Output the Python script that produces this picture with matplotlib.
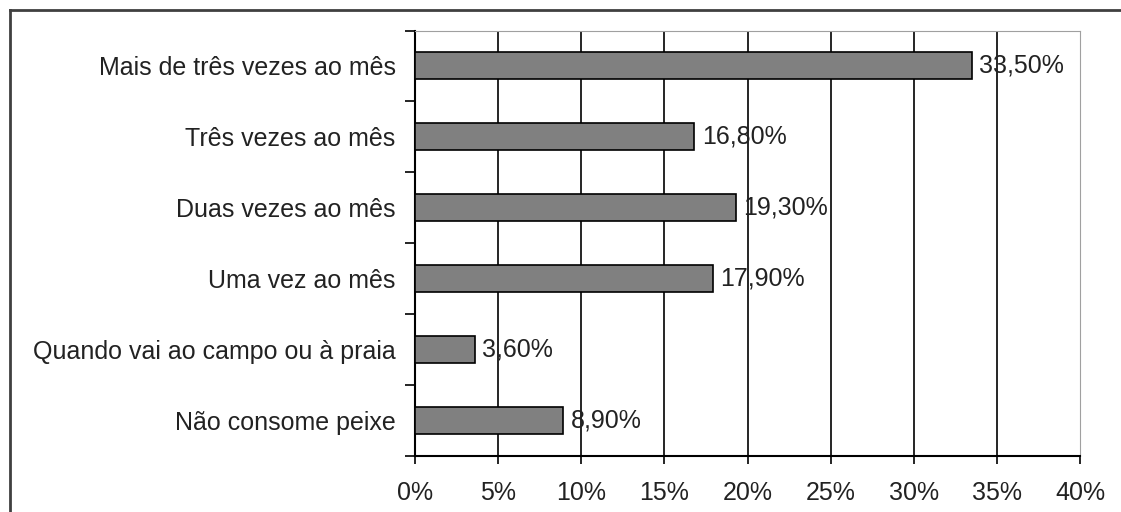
import matplotlib.pyplot as plt
import numpy as np
from matplotlib.lines import Line2D

categorias = ["Mais de três vezes ao mês", "Três vezes ao mês", "Duas vezes ao mês",
              "Uma vez ao mês", "Quando vai ao campo ou à praia", "Não consome peixe"]
valores = [33.5, 16.8, 19.3, 17.9, 3.6, 8.9]
rotulos = ["33,50%", "16,80%", "19,30%", "17,90%", "3,60%", "8,90%"]
xticks = [0, 5, 10, 15, 20, 25, 30, 35, 40]

plt.rcParams['font.family'] = ['Liberation Sans', 'DejaVu Sans']
plt.rcParams['font.size'] = 18

fig = plt.figure(figsize=(11.21, 5.12), dpi=100)
ax = fig.add_axes([415/1121, 1-456/512, 665/1121, 425.5/512])

y = np.arange(len(categorias))
ax.barh(y, valores, height=0.38, color="#808080", edgecolor="black", linewidth=1.2, zorder=3)
for yi, v, r in zip(y, valores, rotulos):
    ax.text(v + 0.45, yi, r, va="center", ha="left", color="#222222", zorder=4)

ax.set_xlim(0, 40)
ax.set_ylim(len(categorias) - 0.5, -0.5)
ax.set_xticks(xticks)
ax.set_xticklabels([f"{t}%" for t in xticks], color="#222222")
ax.set_yticks(y)
ax.set_yticklabels(categorias, color="#222222")
ax.set_yticks(np.arange(-0.5, len(categorias), 1), minor=True)
ax.tick_params(axis="y", which="major", length=0, pad=14)
ax.tick_params(axis="y", which="minor", length=7, width=1.2, direction="out")
ax.tick_params(axis="x", length=6, width=1.2, direction="out", pad=12)

for t in xticks[1:-1]:
    ax.axvline(t, color="black", linewidth=1.2, zorder=1)

ax.spines["left"].set_linewidth(1.5)
ax.spines["bottom"].set_linewidth(1.5)
ax.spines["top"].set_color("#a0a0a0")
ax.spines["right"].set_color("#a0a0a0")

# moldura externa (cortada à direita e embaixo)
fig.add_artist(Line2D([9.5/1121, 9.5/1121], [0, 1-9.5/512], transform=fig.transFigure,
                      color="#404040", linewidth=2))
fig.add_artist(Line2D([9.5/1121, 1], [1-9.5/512, 1-9.5/512], transform=fig.transFigure,
                      color="#404040", linewidth=2))

fig.savefig("out.png", dpi=100)
